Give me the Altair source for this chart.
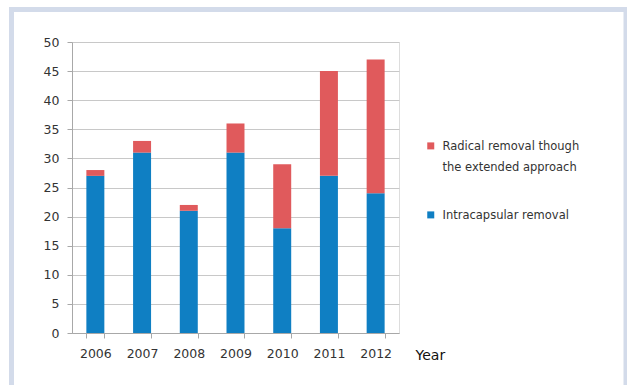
import altair as alt
import pandas as pd

years = ["2006", "2007", "2008", "2009", "2010", "2011", "2012"]
intracapsular = [27, 31, 21, 31, 18, 27, 24]
radical = [1, 2, 1, 5, 11, 18, 23]

cat_red = "Radical removal though the extended approach"
cat_blue = "Intracapsular removal"

rows = []
for y, b, r in zip(years, intracapsular, radical):
    rows.append({"Year": y, "Category": cat_blue, "Value": b, "ord": 0})
    rows.append({"Year": y, "Category": cat_red, "Value": r, "ord": 1})
df = pd.DataFrame(rows)

FONT = "DejaVu Sans"

bars = alt.Chart(df).mark_bar().encode(
    x=alt.X("Year:N", sort=years,
            scale=alt.Scale(paddingInner=0.615, paddingOuter=0.3075),
            axis=alt.Axis(title="Year", titleX=343, titleY=26, titleAlign="left",
                          titleBaseline="alphabetic", titleFont=FONT, titleFontSize=14,
                          titleFontWeight="normal", titleColor="#111",
                          labelAngle=0, labelFont=FONT, labelFontSize=12.5, labelColor="#333",
                          labelPadding=9, tickBand="extent", tickSize=5, tickColor="#a8a8a8",
                          domainColor="#a8a8a8", grid=False)),
    y=alt.Y("Value:Q", stack="zero",
            scale=alt.Scale(domain=[0, 50], nice=False),
            axis=alt.Axis(title=None, values=list(range(0, 51, 5)), labelFont=FONT,
                          labelFontSize=12.5, labelColor="#333", labelPadding=8,
                          tickSize=5, tickColor="#a8a8a8", domainColor="#a8a8a8",
                          gridColor="#c8c8c8")),
    color=alt.Color("Category:N",
                    scale=alt.Scale(domain=[cat_red, cat_blue], range=["#e05a5c", "#0f7fc3"]),
                    legend=alt.Legend(title=None, orient="none", legendX=353, legendY=102,
                                      symbolType="M-1,-2.1H1V-0.1H-1Z", symbolSize=49,
                                      symbolStrokeWidth=0, symbolOpacity=1,
                                      labelFont=FONT, labelFontSize=11.5, labelColor="#333",
                                      labelBaseline="alphabetic", labelOffset=6,
                                      rowPadding=35, padding=0, labelLimit=300,
                                      labelExpr="datum.label == '" + cat_red + "' ? ['Radical removal though', 'the extended approach'] : datum.label")),
    order=alt.Order("ord:Q"),
)

frame = alt.Chart(pd.DataFrame({"a": [0]})).mark_rect(
    fill=None, stroke="#d3dbea", strokeWidth=5
).encode(x=alt.value(-60.5), x2=alt.value(554), y=alt.value(-32.5), y2=alt.value(400))

chart = alt.layer(bars, frame).properties(
    width=327, height=291,
    autosize=alt.AutoSizeParams(type="none"),
    padding={"left": 72, "top": 42, "right": 228, "bottom": 52},
    background="white",
).configure_view(stroke=None).configure(
    style={"guide-label": {"lineHeight": 21}}
)

chart.save("out.html", embed_options={"renderer": "svg", "actions": False})
